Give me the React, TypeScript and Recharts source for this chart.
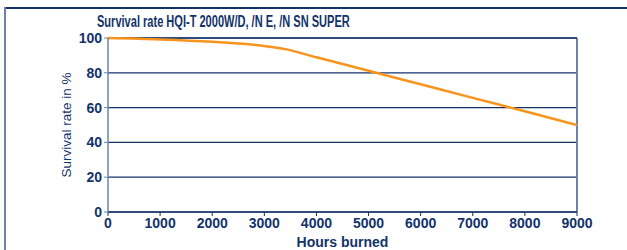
import { LineChart, Line, XAxis, YAxis, CartesianGrid, ReferenceLine } from 'recharts';

const hours = [0, 1000, 2000, 3000, 3400, 4000, 5000, 6000, 7000, 8000, 9000];
const survival = [100, 99.2, 97.8, 95.4, 93.6, 88.9, 81.2, 73.4, 65.6, 57.9, 50];
const xTicks = [0, 1000, 2000, 3000, 4000, 5000, 6000, 7000, 8000, 9000];
const yTicks = [0, 20, 40, 60, 80, 100];

const NAVY = '#13336b';
const FRAME = '#6b84ab';
const FONT = '"Liberation Sans", Arial, sans-serif';

const data = hours.map((h, i) => ({ hours: h, survival: survival[i] }));

if (typeof document !== 'undefined') document.body.style.margin = '0';

export default function App() {
  return (
    <div style={{ position: 'relative', width: 627, height: 250, background: '#fff', fontFamily: FONT }}>
      <div style={{ position: 'absolute', left: 4, top: 7, width: 623, height: 2, background: NAVY }} />
      <div style={{ position: 'absolute', left: 4, top: 7, width: 2, height: 243, background: FRAME }} />
      <div
        style={{
          position: 'absolute',
          left: 97,
          top: 13,
          fontSize: 16,
          fontWeight: 'bold',
          color: NAVY,
          whiteSpace: 'nowrap',
          transform: 'scaleX(0.69)',
          transformOrigin: 'left top',
        }}
      >
        Survival rate HQI-T 2000W/D, /N E, /N SN SUPER
      </div>
      <LineChart
        width={627}
        height={250}
        data={data}
        margin={{ top: 38, right: 50, bottom: 0, left: 0 }}
        style={{ position: 'absolute', left: 0, top: 0 }}
      >
        <CartesianGrid vertical={false} stroke={NAVY} strokeWidth={1.2} />
        <XAxis
          dataKey="hours"
          type="number"
          domain={[0, 9000]}
          ticks={xTicks}
          interval={0}
          height={38}
          axisLine={{ stroke: NAVY, strokeWidth: 1.5 }}
          tickLine={{ stroke: NAVY }}
          tickSize={4}
          tick={{ fill: NAVY, fontSize: 14, fontWeight: 'bold', fontFamily: FONT }}
          label={{ value: 'Hours burned', position: 'insideBottom', offset: 3, fill: NAVY, fontSize: 14, fontWeight: 'bold', fontFamily: FONT }}
        />
        <YAxis
          type="number"
          domain={[0, 100]}
          ticks={yTicks}
          interval={0}
          width={108}
          axisLine={{ stroke: FRAME, strokeWidth: 1.5 }}
          tickLine={{ stroke: FRAME }}
          tickSize={4}
          tick={{ fill: NAVY, fontSize: 14, fontWeight: 'bold', fontFamily: FONT }}
          label={{
            value: 'Survival rate in %',
            angle: -90,
            position: 'insideLeft',
            offset: 66,
            style: { textAnchor: 'middle' },
            fill: NAVY,
            fontSize: 13.5,
            fontFamily: FONT,
          }}
        />
        <ReferenceLine x={9000} stroke={FRAME} strokeWidth={2} />
        <ReferenceLine y={100} stroke={NAVY} strokeWidth={1.5} />
        <Line
          type="monotone"
          dataKey="survival"
          stroke="#f7941d"
          strokeWidth={2.5}
          dot={false}
          isAnimationActive={false}
        />
      </LineChart>
    </div>
  );
}
